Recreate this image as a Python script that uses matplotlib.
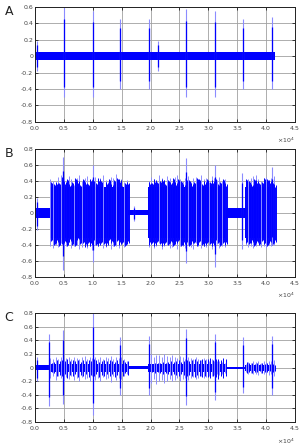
import numpy as np
import matplotlib
matplotlib.use("Agg")
import matplotlib.pyplot as plt
import matplotlib.ticker as mticker

# Envelope of each recording (x in samples, y in volts)
# quiet/burst segments: (start, end, half-width of the dense core)
segA = [(0, 41500, 0.05)]
segB = [(0, 2500, 0.065), (2500, 16000, 0.32), (16000, 19500, 0.03),
        (19500, 33000, 0.32), (33000, 36300, 0.06), (36300, 41500, 0.32)]
segC = [(0, 2500, 0.035), (2500, 16000, 0.06), (16000, 19500, 0.02),
        (19500, 33000, 0.06), (33000, 36300, 0.015), (36300, 41500, 0.045)]

# isolated spikes: position, top, bottom
spikeA_x = [300, 5000, 10000, 14700, 19700, 21300, 26200, 31200, 36000, 41000]
spikeA_top = [0.18, 0.60, 0.55, 0.45, 0.45, 0.18, 0.57, 0.55, 0.45, 0.47]
spikeA_bot = [-0.18, -0.50, -0.50, -0.40, -0.40, -0.18, -0.50, -0.50, -0.40, -0.40]

spikeB_x = [300, 4800, 10000, 17200, 26200, 31200, 35800, 41000]
spikeB_top = [0.18, 0.70, 0.60, 0.08, 0.68, 0.60, 0.50, 0.57]
spikeB_bot = [-0.22, -0.72, -0.62, -0.10, -0.63, -0.68, -0.45, -0.40]

spikeC_x = [300, 2400, 4900, 10000, 14700, 19700, 26200, 31200, 36000, 41000]
spikeC_top = [0.15, 0.50, 0.55, 0.80, 0.45, 0.47, 0.57, 0.50, 0.45, 0.47]
spikeC_bot = [-0.20, -0.57, -0.53, -0.70, -0.40, -0.40, -0.55, -0.48, -0.38, -0.40]

# burst peaks (tops / bottoms of the dense vertical strokes)
burstB1_top = [0.42, 0.40, 0.36, 0.45, 0.47, 0.44, 0.38, 0.46, 0.42, 0.35, 0.43, 0.47,
               0.40, 0.44, 0.46, 0.38, 0.42, 0.45, 0.37, 0.44, 0.47, 0.41, 0.39, 0.45,
               0.43, 0.48, 0.40, 0.42, 0.38, 0.41]
burstB1_bot = [-0.42, -0.44, -0.40, -0.43, -0.38, -0.45, -0.41, -0.36, -0.44, -0.42,
               -0.40, -0.45, -0.43, -0.38, -0.44, -0.41, -0.46, -0.40, -0.42, -0.37,
               -0.44, -0.43, -0.39, -0.45, -0.41, -0.42, -0.44, -0.40, -0.43, -0.38]
burstB2_top = [0.40, 0.45, 0.42, 0.38, 0.47, 0.44, 0.41, 0.46, 0.43, 0.39, 0.45, 0.47,
               0.42, 0.40, 0.44, 0.46, 0.38, 0.43, 0.45, 0.41, 0.47, 0.42, 0.44, 0.39,
               0.46, 0.43, 0.41, 0.45, 0.40, 0.42]
burstB2_bot = [-0.43, -0.40, -0.44, -0.41, -0.38, -0.45, -0.42, -0.40, -0.44, -0.43,
               -0.39, -0.45, -0.41, -0.42, -0.44, -0.40, -0.43, -0.45, -0.38, -0.42,
               -0.44, -0.41, -0.43, -0.40, -0.45, -0.42, -0.39, -0.44, -0.41, -0.43]
burstB3_top = [0.38, 0.42, 0.44, 0.46, 0.47, 0.42, 0.40, 0.44, 0.45, 0.39, 0.43, 0.46]
burstB3_bot = [-0.40, -0.43, -0.41, -0.44, -0.42, -0.38, -0.43, -0.41, -0.44, -0.40,
               -0.42, -0.40]

burstC1_top = [0.14, 0.12, 0.15, 0.13, 0.16, 0.12, 0.14, 0.15, 0.13, 0.16, 0.14, 0.12,
               0.15, 0.17, 0.13, 0.15, 0.14, 0.16, 0.12, 0.15, 0.13, 0.16, 0.14, 0.17,
               0.13, 0.15, 0.14, 0.16, 0.12, 0.10]
burstC1_bot = [-0.15, -0.12, -0.18, -0.13, -0.16, -0.19, -0.14, -0.17, -0.13, -0.18,
               -0.15, -0.20, -0.14, -0.17, -0.16, -0.19, -0.13, -0.18, -0.15, -0.20,
               -0.14, -0.17, -0.16, -0.21, -0.13, -0.18, -0.15, -0.17, -0.12, -0.10]
burstC2_top = [0.17, 0.20, 0.15, 0.19, 0.18, 0.16, 0.20, 0.17, 0.15, 0.18, 0.16, 0.14,
               0.17, 0.15, 0.13, 0.16, 0.14, 0.12, 0.15, 0.13, 0.11, 0.14, 0.12, 0.10,
               0.12, 0.10, 0.09, 0.10, 0.08, 0.07]
burstC2_bot = [-0.18, -0.22, -0.17, -0.24, -0.20, -0.18, -0.22, -0.19, -0.17, -0.20,
               -0.18, -0.16, -0.19, -0.17, -0.15, -0.18, -0.16, -0.14, -0.17, -0.15,
               -0.13, -0.16, -0.14, -0.12, -0.13, -0.11, -0.10, -0.11, -0.09, -0.08]
burstC3_top = [0.06, 0.08, 0.07, 0.09, 0.08, 0.10, 0.07, 0.09, 0.08, 0.10, 0.09, 0.11]
burstC3_bot = [-0.07, -0.09, -0.08, -0.10, -0.09, -0.11, -0.08, -0.10, -0.09, -0.11,
               -0.10, -0.12]

BLUE = "#0000ff"
LIGHT = "#8c8cff"

panels = [
    dict(label="A", ylim=(-0.8, 0.6), yt=np.arange(-0.8, 0.61, 0.2), seg=segA,
         spikes=(spikeA_x, spikeA_top, spikeA_bot), bursts=[], fill=[],
         rect=[0.117, 0.728, 0.866, 0.257]),
    dict(label="B", ylim=(-0.8, 0.8), yt=np.arange(-0.8, 0.81, 0.2), seg=segB,
         spikes=(spikeB_x, spikeB_top, spikeB_bot),
         bursts=[(2500, 16000, burstB1_top, burstB1_bot),
                 (19500, 33000, burstB2_top, burstB2_bot),
                 (36300, 41500, burstB3_top, burstB3_bot)],
         fill=[0.93, 0.85, 0.9],
         rect=[0.117, 0.382, 0.866, 0.286]),
    dict(label="C", ylim=(-0.8, 0.8), yt=np.arange(-0.8, 0.81, 0.2), seg=segC,
         spikes=(spikeC_x, spikeC_top, spikeC_bot),
         bursts=[(2500, 16000, burstC1_top, burstC1_bot),
                 (19500, 33000, burstC2_top, burstC2_bot),
                 (36300, 41500, burstC3_top, burstC3_bot)],
         fill=[0.7],
         rect=[0.117, 0.058, 0.866, 0.243]),
]

fig = plt.figure(figsize=(3.0, 4.48), dpi=100)

for p in panels:
    ax = fig.add_axes(p["rect"])
    # dense core of the signal
    for x0, x1, a in p["seg"]:
        ax.fill_between([x0, x1], [-a, -a], [a, a], color=BLUE, lw=0)
    # burst strokes, drawn a few times at shifted positions to fill them in
    for x0, x1, tops, bots in p["bursts"]:
        xs = np.linspace(x0 + 150, x1 - 150, len(tops))
        step = (xs[1] - xs[0]) if len(xs) > 1 else 400
        ax.vlines(xs, bots, tops, color=LIGHT, lw=0.7)
        for k, f in enumerate(p["fill"]):
            off = step * (k + 1) / (len(p["fill"]) + 1)
            ax.vlines(xs + off, [b * f for b in bots[::-1]], [t * f for t in tops[::-1]],
                      color=BLUE, lw=0.7)
    # isolated spikes
    sx, st, sb = p["spikes"]
    ax.vlines(sx, sb, st, color=LIGHT, lw=0.8)
    ax.vlines(sx, [b * 0.75 for b in sb], [t * 0.75 for t in st], color=BLUE, lw=0.9)

    ax.set_xlim(0, 45000)
    ax.set_ylim(*p["ylim"])
    ax.set_xticks(np.arange(0, 45001, 5000))
    ax.set_yticks(p["yt"])
    ax.yaxis.set_major_formatter(mticker.FuncFormatter(
        lambda v, pos: "0" if abs(v) < 1e-9 else f"{v:g}"))
    ax.ticklabel_format(axis="x", style="sci", scilimits=(0, 0), useMathText=True)
    ax.xaxis.get_offset_text().set_fontsize(4.5)
    ax.xaxis.get_offset_text().set_color("#444444")
    ax.grid(True, color="#a0a0a0", lw=0.6)
    ax.set_axisbelow(True)
    ax.tick_params(direction="in", length=2, width=0.5, labelsize=4.5,
                   labelcolor="#444444", pad=1.5, top=True, right=True)
    for s in ax.spines.values():
        s.set_linewidth(0.7)
        s.set_color("#222222")
    fig.text(0.015, p["rect"][1] + p["rect"][3] - 0.01, p["label"],
             fontsize=9, va="center", ha="left", color="#222222")

fig.savefig("out.png", dpi=100)
